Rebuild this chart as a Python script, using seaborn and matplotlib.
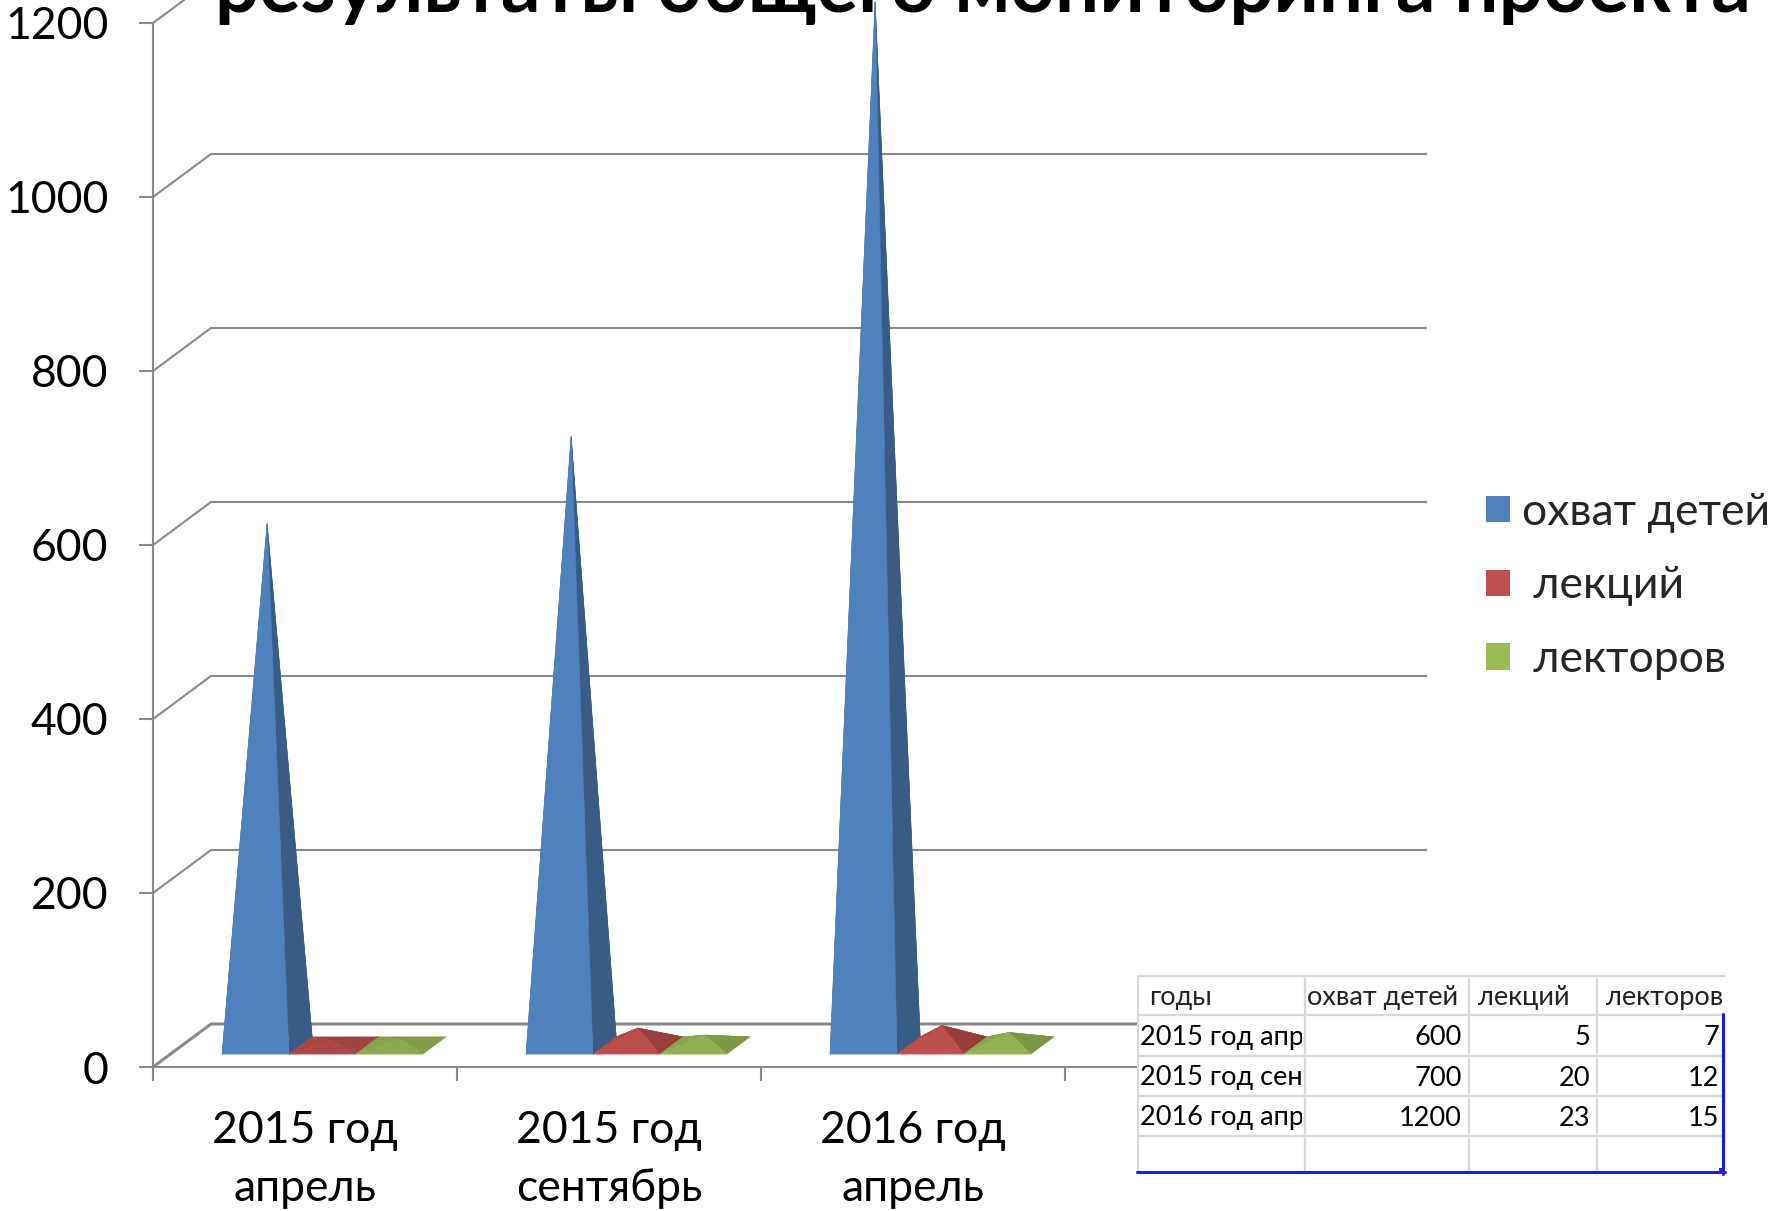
import numpy as np
import matplotlib
matplotlib.use("Agg")
import matplotlib.pyplot as plt
import seaborn as sns
from matplotlib.patches import Polygon, Rectangle, Patch
from matplotlib.transforms import Bbox, TransformedBbox
from matplotlib import font_manager as fm

# ---------------- data ----------------
title = "результаты общего мониторинга проекта"
categories = ["2015 год\nапрель", "2015 год\nсентябрь", "2016 год\nапрель"]
series_names = ["охват детей", " лекций", " лекторов"]
children = [600, 700, 1200]
lectures = [5, 20, 23]
lecturers = [7, 12, 15]
y_ticks = [0, 200, 400, 600, 800, 1000, 1200]
table_corner = "годы"
n_slots = 4  # category slots on the floor (the last one is empty)

# ---------------- style ----------------
sns.set_theme(style="white")
names = {f.name for f in fm.fontManager.ttflist}
NARROW = "Liberation Sans Narrow" in names
MAIN_FONT = "Liberation Sans Narrow" if NARROW else "Lato"
plt.rcParams["font.family"] = [MAIN_FONT, "DejaVu Sans"]
FS = 36 if NARROW else 32
TABLE_FONT = ["Lato", "DejaVu Sans"]

palette = sns.color_palette(["#4F81BD", "#C0504D", "#9BBB59"])
GRID = "#8A8A8A"
TGRID = "#D8D8D8"
SEL = "#1C1CE6"

W, H = 1783, 1211
fig = plt.figure(figsize=(W / 100, H / 100), dpi=100)
fig.patch.set_facecolor("white")


def fx(px):
    return px / W


def fy(py):
    return 1 - py / H


# main (front) axes: 0..1200 on the front vertical axis
ax = fig.add_axes([fx(153), fy(1067), (1369 - 153) / W, (1067 - 23) / H])
ax.set_xlim(0, n_slots)
ax.set_ylim(0, 1200)
ax.patch.set_visible(False)
sns.despine(ax=ax)
for s in ("left", "bottom"):
    ax.spines[s].set_color(GRID)
    ax.spines[s].set_linewidth(1.5)

# oblique depth offset (data units)
DX = 58 / 304
DY = 43 / 0.87

# back wall + side wall gridlines
for v in y_ticks:
    ax.plot([0, DX, n_slots + DX], [v, v + DY, v + DY], color=GRID,
            lw=1.5 if v else 2.2, clip_on=False, zorder=1, solid_capstyle="butt")
ax.plot([n_slots, n_slots + DX], [0, DY], color=GRID, lw=1.5, clip_on=False, zorder=1)

# ticks
ax.set_yticks(y_ticks)
ax.set_yticklabels([str(v) for v in y_ticks])
ax.set_xticks(np.arange(0, n_slots + 1), minor=True)
ax.set_xticks(np.arange(len(categories)) + 0.5)
ax.set_xticklabels(categories, linespacing=1.5)
ax.tick_params(axis="y", which="major", left=True, length=10, width=1.5, color=GRID,
               pad=22, labelsize=FS, labelcolor="black")
ax.tick_params(axis="x", which="minor", bottom=True, length=10, width=1.5, color=GRID)
ax.tick_params(axis="x", which="major", bottom=True, length=0, pad=31,
               labelsize=FS, labelcolor="black")

# ---------------- 3D pyramids ----------------
WIDTH = 0.22
START = 0.17
D0, D1 = 0.30, 0.70
PXX, PXY = 304.0, 0.87
ZS = WIDTH * PXX / (D1 - D0)
L = np.array([-0.4, 0.5, -1.0])
L = L / np.linalg.norm(L)
REF = L @ np.array([0, 0, -1.0])
AMB = 0.71


def proj(x, y, d):
    return (x + d * DX, y + d * DY)


def world(x, y, d):
    return np.array([x * PXX, y * PXY, d * ZS])


def shade(base, tri, centre):
    a, b, c = [world(*p) for p in tri]
    n = np.cross(b - a, c - a)
    n = n / np.linalg.norm(n)
    if n @ ((a + b + c) / 3 - centre) < 0:
        n = -n
    f = AMB + (1 - AMB) * max(0.0, n @ L) / REF
    return tuple(np.clip(np.array(base) * min(f, 1.0), 0, 1))


series = [children, lectures, lecturers]
z = 3
for i in range(len(categories)):
    for s, vals in enumerate(series):
        v = vals[i]
        base = palette[s]
        x0 = i + START + s * WIDTH
        x1 = x0 + WIDTH
        xc = (x0 + x1) / 2
        P = {"fl": (x0, 0, D0), "fr": (x1, 0, D0), "bl": (x0, 0, D1),
             "br": (x1, 0, D1), "ap": (xc, v, 0.5)}
        centre = world(xc, v / 4, 0.5)
        faces = [("bl", "br", "ap"), ("fl", "bl", "ap"), ("fr", "br", "ap"), ("fl", "fr", "ap")]
        for f in faces:
            tri = [P[k] for k in f]
            col = shade(base, tri, centre)
            ax.add_patch(Polygon([proj(*p) for p in tri], closed=True, facecolor=col,
                                 edgecolor=col, lw=0.4, zorder=z, clip_on=False))
            z += 0.01
        z += 0.1

# ---------------- legend ----------------
handles = [Patch(facecolor=c, edgecolor="none") for c in palette]
leg = ax.legend(handles, series_names, loc="center left",
                bbox_to_anchor=(fx(1486), fy(586)), bbox_transform=fig.transFigure,
                frameon=False, fontsize=FS, handlelength=0.54, handleheight=0.54,
                handletextpad=0.26, borderpad=0, borderaxespad=0, labelspacing=0.74)

# ---------------- title (cut at the top edge, as in the slide) ----------------
t = fig.text(fx(983), fy(12), title, ha="center", va="baseline",
             fontweight="bold", fontsize=56, color="black")
fig.canvas.draw()
wpx = t.get_window_extent().width
t.set_fontsize(56 * 1535 / wpx)

# ---------------- data table picture ----------------
col_edges = [1137, 1304, 1468, 1596, 1725]
row_edges = [974.5, 1014, 1055, 1095, 1135, 1173.5]
axt = fig.add_axes([fx(col_edges[0]), fy(row_edges[-1]),
                    (col_edges[-1] - col_edges[0]) / W,
                    (row_edges[-1] - row_edges[0]) / H], zorder=5)
axt.set_xlim(col_edges[0], col_edges[-1])
axt.set_ylim(H - row_edges[-1], H - row_edges[0])
axt.axis("off")
axt.add_patch(Rectangle((col_edges[0], H - row_edges[-1]), col_edges[-1] - col_edges[0],
                        row_edges[-1] - row_edges[0], facecolor="white", edgecolor="none",
                        zorder=0))
for c in col_edges[:-1]:
    axt.plot([c + 1, c + 1], [H - row_edges[0], H - row_edges[-1]], color=TGRID, lw=1.6, zorder=1)
for r in row_edges[:-1]:
    axt.plot([col_edges[0], col_edges[-1]], [H - r - 1, H - r - 1], color=TGRID, lw=1.6, zorder=1)

rows = [[table_corner] + series_names]
for i, cat in enumerate(categories):
    rows.append([cat.replace("\n", " "), str(children[i]), str(lectures[i]), str(lecturers[i])])

for r, row in enumerate(rows):
    yc = H - (row_edges[r] + row_edges[r + 1]) / 2 - 3
    for c, txt in enumerate(row):
        c0, c1 = col_edges[c], col_edges[c + 1]
        numeric = r > 0 and c > 0
        if numeric:
            xt, ha = c1 - 6, "right"
        else:
            xt, ha = c0 + (12 if (r == 0 and c == 0) else 3), "left"
        tt = axt.text(xt, yc, txt, ha=ha, va="center", fontsize=19.5, family=TABLE_FONT,
                      color="#222222" if r == 0 else "black", zorder=3, clip_on=True)
        tt.set_clip_box(TransformedBbox(
            Bbox.from_extents(c0, H - row_edges[r + 1], c1 - 2, H - row_edges[r]),
            axt.transData))

# selection border (blue)
axt.plot([col_edges[-1] - 1.5, col_edges[-1] - 1.5], [H - row_edges[1], H - row_edges[-1]],
         color=SEL, lw=2.2, zorder=4, clip_on=False)
axt.plot([col_edges[0], col_edges[-1]], [H - row_edges[-1] + 1.5, H - row_edges[-1] + 1.5],
         color=SEL, lw=2.2, zorder=4, clip_on=False)
axt.add_patch(Rectangle((col_edges[-1] - 6, H - row_edges[-1]), 6, 6, facecolor=SEL,
                        edgecolor="none", zorder=4, clip_on=False))

fig.savefig("out.png", dpi=100, facecolor="white")
